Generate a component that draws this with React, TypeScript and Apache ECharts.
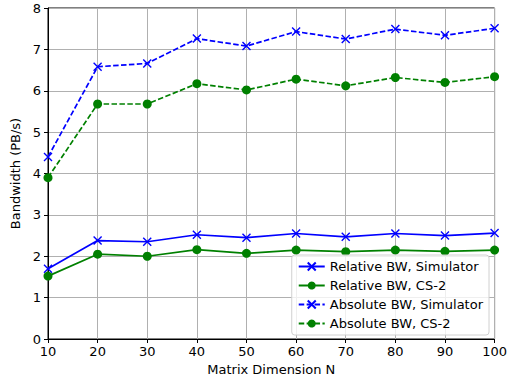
import React, { useEffect, useRef } from "react";
import * as echarts from "echarts";

const dims = [10, 20, 30, 40, 50, 60, 70, 80, 90, 100];
const relSim = [1.7, 2.38, 2.35, 2.52, 2.45, 2.55, 2.47, 2.55, 2.5, 2.56];
const relCS2 = [1.52, 2.05, 2.0, 2.16, 2.07, 2.15, 2.11, 2.15, 2.12, 2.15];
const absSim = [4.4, 6.58, 6.66, 7.26, 7.08, 7.43, 7.25, 7.49, 7.34, 7.51];
const absCS2 = [3.9, 5.68, 5.68, 6.17, 6.02, 6.28, 6.12, 6.32, 6.2, 6.34];
const seriesNames = [
  "Relative BW, Simulator",
  "Relative BW, CS-2",
  "Absolute BW, Simulator",
  "Absolute BW, CS-2",
];

const FONT = "DejaVu Sans";
const BLUE = "#0000ff";
const GREEN = "#008000";
const XSYM = "path://M0,0L10,10M10,0L0,10";

export default function App() {
  const ref = useRef<HTMLDivElement>(null);
  useEffect(() => {
    if (!ref.current) return;
    const chart = echarts.init(ref.current, undefined, { renderer: "svg" });
    const pair = (arr: number[]) => dims.map((d, i) => [d, arr[i]]);
    const mk = (
      name: string,
      data: number[],
      color: string,
      cross: boolean,
      dashed: boolean
    ) => ({
      name,
      type: "line",
      data: pair(data),
      symbol: cross ? XSYM : "circle",
      symbolSize: cross ? 8 : 9,
      showSymbol: true,
      lineStyle: { color, width: 1.7, type: dashed ? [5.5, 2.4] : "solid" },
      itemStyle: cross
        ? { color, borderColor: color, borderWidth: 1.4 }
        : { color, borderColor: color, borderWidth: 0 },
      z: 3,
    });
    chart.setOption({
      animation: false,
      textStyle: { fontFamily: FONT },
      grid: {
        left: 48,
        right: 13,
        top: 8,
        bottom: 39,
        show: true,
        borderColor: "#000",
        borderWidth: 1,
        backgroundColor: "#fff",
      },
      xAxis: {
        type: "value",
        min: 10,
        max: 100,
        interval: 10,
        name: "Matrix Dimension N",
        nameLocation: "middle",
        nameGap: 24,
        nameTextStyle: { fontSize: 13, color: "#000", fontFamily: FONT },
        axisLine: { show: true, lineStyle: { color: "#000", width: 1 } },
        axisTick: { show: true, inside: false, length: 4, lineStyle: { color: "#000" } },
        axisLabel: { fontSize: 13, color: "#000", margin: 6, fontFamily: FONT },
        splitLine: { show: true, lineStyle: { color: "#b0b0b0", width: 1 } },
      },
      yAxis: {
        type: "value",
        min: 0,
        max: 8,
        interval: 1,
        name: "Bandwidth (PB/s)",
        nameLocation: "middle",
        nameGap: 21,
        nameTextStyle: { fontSize: 13, color: "#000", fontFamily: FONT },
        axisLine: { show: true, lineStyle: { color: "#000", width: 1 } },
        axisTick: { show: true, inside: false, length: 4, lineStyle: { color: "#000" } },
        axisLabel: { fontSize: 13, color: "#000", margin: 7, fontFamily: FONT },
        splitLine: { show: true, lineStyle: { color: "#b0b0b0", width: 1 } },
      },
      legend: {
        orient: "vertical",
        right: 21,
        bottom: 46,
        data: seriesNames,
        backgroundColor: "rgba(255,255,255,0.8)",
        borderColor: "#d0d0d0",
        borderWidth: 1,
        borderRadius: 3,
        padding: [5, 6, 5, 6],
        itemWidth: 26,
        itemHeight: 10,
        itemGap: 6,
        textStyle: { fontSize: 13, color: "#000", fontFamily: FONT },
      },
      series: [
        mk(seriesNames[0], relSim, BLUE, true, false),
        mk(seriesNames[1], relCS2, GREEN, false, false),
        mk(seriesNames[2], absSim, BLUE, true, true),
        mk(seriesNames[3], absCS2, GREEN, false, true),
      ],
    });
    return () => chart.dispose();
  }, []);
  return (
    <div
      ref={ref}
      style={{ position: "fixed", left: 0, top: 0, width: 510, height: 381, background: "#fff" }}
    />
  );
}
